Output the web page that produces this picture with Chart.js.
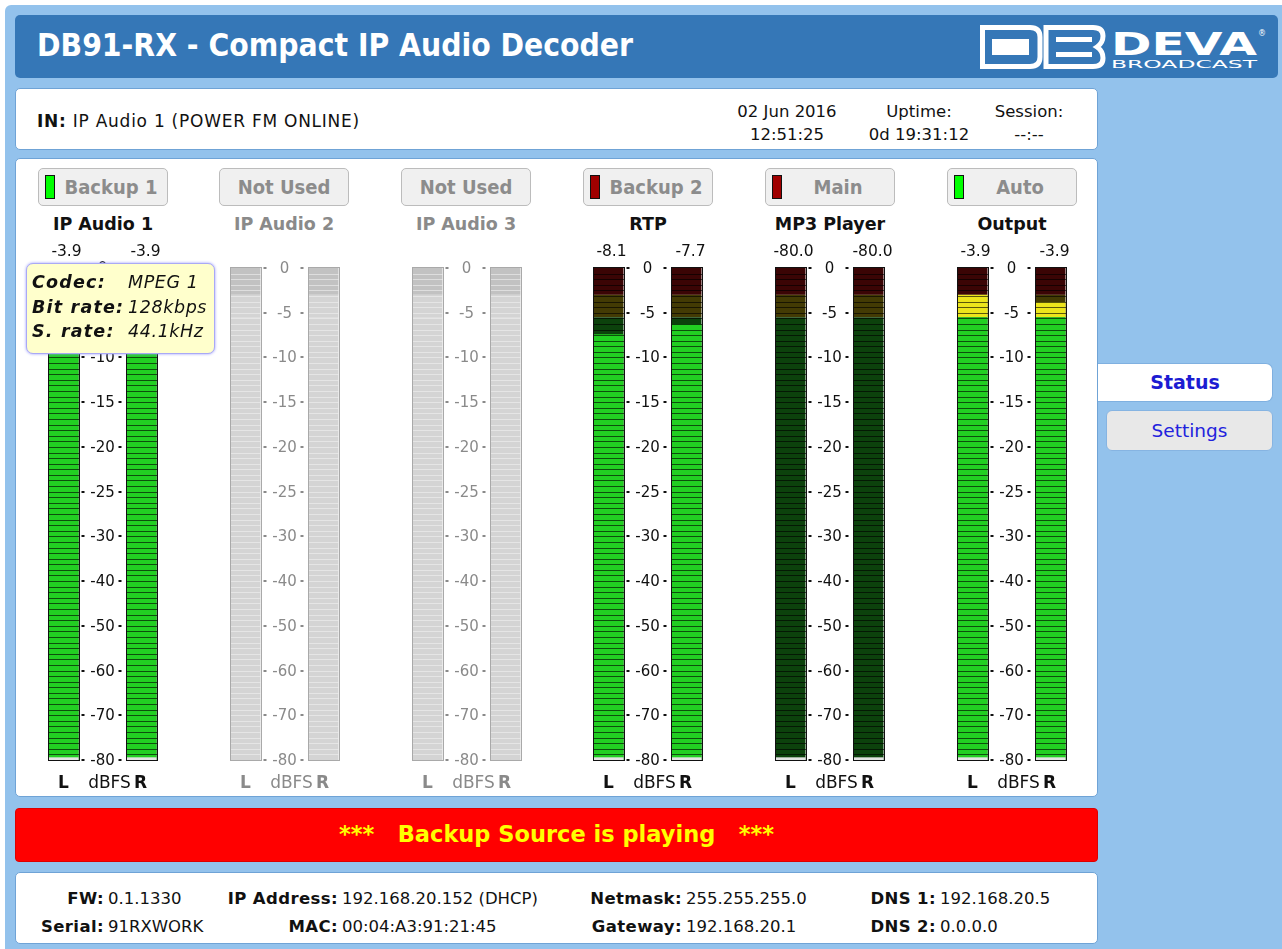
<!DOCTYPE html>
<html>
<head>
<meta charset="utf-8">
<title>DB91-RX - Compact IP Audio Decoder</title>
<script src="https://cdn.jsdelivr.net/npm/chart.js@4.4.1/dist/chart.umd.min.js"></script>
<style>
  body { margin: 0; background: #fff; font-family: "DejaVu Sans", sans-serif; }
  .abs { position: absolute; }
  #wrap { left: 5px; top: 5px; width: 1277px; height: 944px; background: #93c2ec; border-radius: 6px 0 0 0; }
  .box { background: #fff; border: 1px solid #6fa3d6; border-radius: 5px; box-sizing: border-box; }
  #head { left: 15px; top: 15px; width: 1263px; height: 63px; background: #3577b7; border-radius: 5px; }
  #title { left: 22px; top: 12px; color: #fff; font-family: "DejaVu Sans Condensed", sans-serif; font-weight: bold; font-size: 31.5px; white-space: nowrap; }
  .btn { height: 38px; width: 130px; top: 168px; background: #f0f0f0; border: 1px solid #bcbcbc; border-radius: 5px; box-sizing: border-box;
         color: #8c8c8c; font-family: "DejaVu Sans Condensed", sans-serif; font-weight: bold; font-size: 20px; line-height: 36px; text-align: center; }
  .led { left: 6px; top: 6px; width: 10px; height: 24px; border: 1px solid #111; box-sizing: border-box; }
  .gname { top: 214px; width: 160px; text-align: center; font-weight: bold; font-size: 17.5px; }
  .t { white-space: nowrap; font-size: 16.5px; color: #111; }
  .c { text-align: center; }
  b { font-weight: bold; }
  #tip { left: 26px; top: 263px; width: 189px; height: 91px; background: #ffffcc; border: 1px solid #a9a9f5; border-radius: 7px;
         box-shadow: 0 0 3px #9a9aff; box-sizing: border-box; font-style: italic; font-size: 17.5px; color: #111; white-space: nowrap; }
  .tl { position: absolute; left: 5px; font-weight: bold; letter-spacing: 1.2px; }
  .tv { position: absolute; left: 101px; letter-spacing: 0.6px; }
  .lab { position: absolute; text-align: right; font-weight: bold; letter-spacing: 0.4px; }
  .val { position: absolute; text-align: left; }
</style>
</head>
<body>
<div id="wrap" class="abs"></div>
<div id="head" class="abs">
  <div id="title" class="abs">DB91-RX - Compact IP Audio Decoder</div>
  <svg class="abs" style="left:963px;top:7px" width="290" height="50" viewBox="0 0 290 50">
    <g fill="none" stroke="#fff" stroke-width="5">
      <path d="M4.5 5.5 H52 Q62 5.5 62 15 V35 Q62 44.5 52 44.5 H4.5 Z"/>
      <path d="M68 5.5 H115 Q125 5.5 125 14 Q125 21 119 25 Q125 29 125 36 Q125 44.5 115 44.5 H68 Z"/>
    </g>
    <rect x="14" y="17" width="37" height="16" fill="#fff"/>
    <rect x="78" y="15" width="36" height="5" fill="#fff"/>
    <rect x="78" y="30" width="36" height="5" fill="#fff"/>
    <text x="133" y="33" fill="#fff" font-family="DejaVu Sans" font-weight="bold" font-size="32" textLength="146" lengthAdjust="spacingAndGlyphs">DEVA</text>
    <text x="280" y="14" fill="#fff" font-family="DejaVu Sans" font-size="8">®</text>
    <text x="133" y="46" fill="#fff" font-family="DejaVu Sans" font-size="10" textLength="146" lengthAdjust="spacingAndGlyphs">BROADCAST</text>
  </svg>
</div>

<div class="abs box" style="left:15px;top:88px;width:1083px;height:62px"></div>
<div class="abs t" style="left:37px;top:111px;font-size:17px;letter-spacing:0.75px"><b>IN:</b> IP Audio 1 (POWER FM ONLINE)</div>
<div class="abs t c" style="left:727px;top:100px;width:120px;line-height:23px">02 Jun 2016<br>12:51:25</div>
<div class="abs t c" style="left:859px;top:100px;width:120px;line-height:23px">Uptime:<br>0d 19:31:12</div>
<div class="abs t c" style="left:969px;top:100px;width:120px;line-height:23px">Session:<br>--:--</div>

<div class="abs box" style="left:15px;top:158px;width:1083px;height:639px"></div>
<div id="meters"></div>

<div class="abs" style="left:1098px;top:363px;width:175px;height:39px;background:#fff;border:1px solid #7fb0e0;border-left:none;border-radius:0 7px 7px 0;box-sizing:border-box;text-align:center;line-height:37px;font-weight:bold;font-size:19px;color:#1c1cd2">Status</div>
<div class="abs" style="left:1106px;top:410px;width:167px;height:41px;background:#e8e8e8;border:1px solid #86b4e2;border-radius:6px;box-sizing:border-box;text-align:center;line-height:39px;font-size:18.5px;color:#2222dd">Settings</div>

<div class="abs" style="left:15px;top:808px;width:1083px;height:54px;background:#ff0000;border:1px solid #d00;border-radius:4px;box-sizing:border-box;text-align:center;line-height:50px;font-size:22.5px;font-weight:bold;color:#ffff00;white-space:pre">***   Backup Source is playing   ***</div>

<div class="abs box" style="left:15px;top:872px;width:1083px;height:72px"></div>
<div class="abs t" style="left:0;top:889px;width:1100px;height:60px">
  <span class="lab" style="right:996px;top:0">FW:</span><span class="val" style="left:108px;top:0">0.1.1330</span>
  <span class="lab" style="right:996px;top:28px">Serial:</span><span class="val" style="left:108px;top:28px">91RXWORK</span>
  <span class="lab" style="right:762px;top:0">IP Address:</span><span class="val" style="left:342px;top:0">192.168.20.152 (DHCP)</span>
  <span class="lab" style="right:762px;top:28px">MAC:</span><span class="val" style="left:342px;top:28px">00:04:A3:91:21:45</span>
  <span class="lab" style="right:418px;top:0">Netmask:</span><span class="val" style="left:686px;top:0">255.255.255.0</span>
  <span class="lab" style="right:418px;top:28px">Gateway:</span><span class="val" style="left:686px;top:28px">192.168.20.1</span>
  <span class="lab" style="right:164px;top:0">DNS 1:</span><span class="val" style="left:940px;top:0">192.168.20.5</span>
  <span class="lab" style="right:164px;top:28px">DNS 2:</span><span class="val" style="left:940px;top:28px">0.0.0.0</span>
</div>

<script>
// meter data
const groupNames = ['IP Audio 1', 'IP Audio 2', 'IP Audio 3', 'RTP', 'MP3 Player', 'Output'];
const buttonNames = ['Backup 1', 'Not Used', 'Not Used', 'Backup 2', 'Main', 'Auto'];
const ledColors = ['#00ff00', null, null, '#a00000', '#a00000', '#00ff00'];
const inUse = [true, false, false, true, true, true];
const levelL = [-3.0, -80, -80, -7.4, -80, -3.0];
const levelR = [-3.8, -80, -80, -6.3, -80, -3.8];
const readoutL = ['-3.9', '', '', '-8.1', '-80.0', '-3.9'];
const readoutR = ['-3.9', '', '', '-7.7', '-80.0', '-3.9'];
const scaleTicks = [0, -5, -10, -15, -20, -25, -30, -40, -50, -60, -70, -80];
const channelLabels = ['L', 'dBFS', 'R'];
const zoneBounds = [[-80, -5.5], [-5.5, -3], [-3, 0]];
const floorDb = -79.4;

const zoneLit = ['#22cf22', '#ece51c', '#ff2a2a'];
const zoneDark = ['#0c420c', '#433b04', '#3b0505'];
const zoneIdle = ['#d4d4d4', '#d4d4d4', '#c2c2c2'];

// dBFS scale: ticks evenly spaced even though steps change from 5 to 10 dB
function dbFrac(v) {
  const n = scaleTicks.length - 1;
  if (v >= scaleTicks[0]) return 1;
  if (v <= scaleTicks[n]) return 0;
  for (let i = 0; i < n; i++) {
    const a = scaleTicks[i], b = scaleTicks[i + 1];
    if (v <= a && v >= b) return 1 - (i + (a - v) / (a - b)) / n;
  }
  return 0;
}
class DbfsScale extends Chart.LinearScale {
  getPixelForValue(v) { return this.bottom - dbFrac(v) * (this.bottom - this.top); }
  getValueForPixel(p) {
    const n = scaleTicks.length - 1;
    const pos = (this.bottom - p) / (this.bottom - this.top) * n;
    const i = Math.min(n - 1, Math.max(0, Math.floor(n - pos)));
    const f = (n - pos) - i;
    return scaleTicks[i] + (scaleTicks[i + 1] - scaleTicks[i]) * f;
  }
}
DbfsScale.id = 'dbfs';
DbfsScale.defaults = Chart.LinearScale.defaults;
Chart.register(DbfsScale);

const FONT = '"DejaVu Sans", sans-serif';

const meterPlugin = {
  id: 'meter',
  afterDatasetsDraw(chart) {
    const o = chart.options.plugins.meter;
    const ctx = chart.ctx;
    const xs = chart.scales.x, ys = chart.scales.y;
    const seg = (ys.bottom - ys.top) / 88;
    const ink = o.active ? '#111' : '#8a8a8a';
    ctx.save();
    chart.getDatasetMeta(0).data.forEach((el, k) => {
      if (k === 1 || !isFinite(el.y)) return;
      const left = Math.round(el.x - el.width / 2), w = Math.round(el.width);
      const top = Math.round(ys.top), bot = Math.round(ys.bottom);
      ctx.fillStyle = o.active ? 'rgba(0,0,0,0.62)' : 'rgba(240,240,240,0.6)';
      for (let yy = ys.top + seg; yy < ys.bottom - 1; yy += seg) {
        ctx.fillRect(left, Math.round(yy), w, 1);
      }
      ctx.strokeStyle = o.active ? '#111' : '#a9a9a9';
      ctx.lineWidth = 1;
      ctx.strokeRect(left - 0.5, top - 0.5, w + 1, bot - top + 1);
    });
    // dB scale between the bars
    const cx = xs.getPixelForValue(1);
    ctx.fillStyle = ink;
    ctx.font = '15px ' + FONT;
    ctx.textAlign = 'center';
    ctx.textBaseline = 'middle';
    scaleTicks.forEach(t => {
      const py = Math.round(ys.getPixelForValue(t));
      ctx.fillRect(cx - 21, py - 1, 3, 2);
      ctx.fillRect(cx + 16, py - 1, 3, 2);
      ctx.fillText(String(t), cx, py + 1);
    });
    // readouts above each bar
    ctx.font = '15.5px ' + FONT;
    ctx.fillText(o.readL, xs.getPixelForValue(0) + 3, ys.top - 16);
    ctx.fillText(o.readR, xs.getPixelForValue(2) + 4, ys.top - 16);
    // channel labels under the bars
    const by = ys.bottom + 24;
    ctx.font = 'bold 17px ' + FONT;
    ctx.fillText(channelLabels[0], xs.getPixelForValue(0), by);
    ctx.fillText(channelLabels[2], xs.getPixelForValue(2) - 1, by);
    ctx.font = '17px ' + FONT;
    ctx.fillText(channelLabels[1], cx + 7, by);
    ctx.restore();
  }
};

function litRange(level, zone) {
  if (level <= zone[0]) return null;
  return [zone[0], Math.min(level, zone[1])];
}

groupNames.forEach((name, i) => {
  const cx = 102.5 + i * 181.8;
  const active = inUse[i];

  const btn = document.createElement('div');
  btn.className = 'abs btn';
  btn.style.left = Math.round(cx - 65) + 'px';
  if (ledColors[i]) {
    btn.style.paddingLeft = '16px';
    const led = document.createElement('div');
    led.className = 'abs led';
    led.style.background = ledColors[i];
    btn.appendChild(led);
  }
  btn.appendChild(document.createTextNode(buttonNames[i]));
  document.body.appendChild(btn);

  const g = document.createElement('div');
  g.className = 'abs gname';
  g.style.left = Math.round(cx - 80) + 'px';
  g.style.color = active ? '#111' : '#8a8a8a';
  g.textContent = name;
  document.body.appendChild(g);

  const cv = document.createElement('canvas');
  cv.width = 157; cv.height = 555;
  cv.className = 'abs';
  cv.style.left = Math.round(cx - 78.5) + 'px';
  cv.style.top = '240px';
  document.body.appendChild(cv);

  const common = { barPercentage: 30 / 39, categoryPercentage: 1, grouped: false, borderWidth: 0 };
  const datasets = [];
  datasets.push(Object.assign({ label: 'frame', data: [[-80, 0], null, [-80, 0]], backgroundColor: 'rgba(0,0,0,0)' }, common));
  if (active) {
    datasets.push(Object.assign({ label: 'floor', data: [[-80, floorDb], null, [-80, floorDb]], backgroundColor: '#e4e4e4' }, common));
  }
  zoneBounds.forEach((z, k) => {
    datasets.push(Object.assign({
      label: 'lit ' + k,
      data: [litRange(levelL[i], z), null, litRange(levelR[i], z)],
      backgroundColor: zoneLit[k]
    }, common));
  });
  zoneBounds.forEach((z, k) => {
    datasets.push(Object.assign({
      label: 'zone ' + k,
      data: [z, null, z],
      backgroundColor: active ? zoneDark[k] : zoneIdle[k]
    }, common));
  });

  new Chart(cv, {
    type: 'bar',
    data: { labels: channelLabels, datasets: datasets },
    options: {
      responsive: false,
      animation: false,
      events: [],
      layout: { padding: { top: 28, bottom: 35, left: 20, right: 20 } },
      scales: {
        x: { type: 'category', display: false },
        y: { type: 'dbfs', display: false, min: -80, max: 0, grid: { display: false } }
      },
      plugins: {
        legend: { display: false },
        tooltip: { enabled: false },
        meter: { active: active, readL: readoutL[i], readR: readoutR[i] }
      }
    },
    plugins: [meterPlugin]
  });
});
</script>

<div id="tip" class="abs">
  <span class="tl" style="top:8px">Codec:</span><span class="tv" style="top:8px">MPEG 1</span>
  <span class="tl" style="top:33px">Bit rate:</span><span class="tv" style="top:33px">128kbps</span>
  <span class="tl" style="top:57px">S. rate:</span><span class="tv" style="top:57px">44.1kHz</span>
</div>
</body>
</html>
